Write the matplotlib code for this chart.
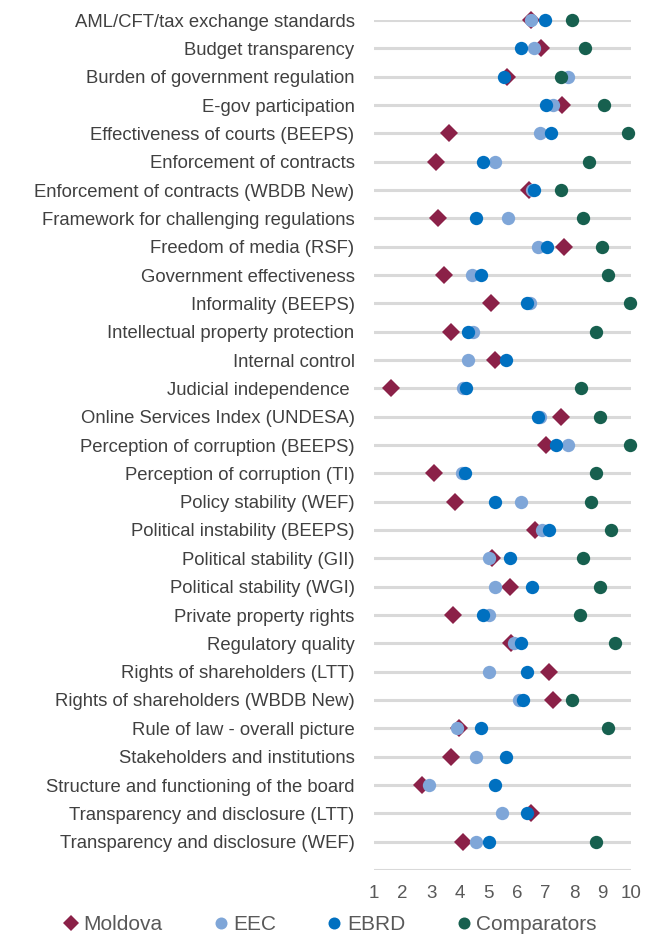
import numpy as np
import matplotlib
matplotlib.use("Agg")
import matplotlib.pyplot as plt

nan = np.nan

categories = [
    "AML/CFT/tax exchange standards",
    "Budget transparency",
    "Burden of government regulation",
    "E-gov participation",
    "Effectiveness of courts (BEEPS)",
    "Enforcement of contracts",
    "Enforcement of contracts (WBDB New)",
    "Framework for challenging regulations",
    "Freedom of media (RSF)",
    "Government effectiveness",
    "Informality (BEEPS)",
    "Intellectual property protection",
    "Internal control",
    "Judicial independence ",
    "Online Services Index (UNDESA)",
    "Perception of corruption (BEEPS)",
    "Perception of corruption (TI)",
    "Policy stability (WEF)",
    "Political instability (BEEPS)",
    "Political stability (GII)",
    "Political stability (WGI)",
    "Private property rights",
    "Regulatory quality",
    "Rights of shareholders (LTT)",
    "Rights of shareholders (WBDB New)",
    "Rule of law - overall picture",
    "Stakeholders and institutions",
    "Structure and functioning of the board",
    "Transparency and disclosure (LTT)",
    "Transparency and disclosure (WEF)",
]

moldova = [6.51, 6.86, 5.67, 7.60, 3.61, 3.17, 6.43, 3.24, 7.64, 3.46,
           5.11, 3.68, 5.24, 1.59, 7.56, 7.04, 3.10, 3.83, 6.64, 5.14,
           5.78, 3.76, 5.79, 7.12, 7.27, 3.98, 3.68, 2.68, 6.51, 4.12]
eec = [6.50, 6.59, 7.79, 7.27, 6.82, 5.24, 6.55, 5.70, 6.75, 4.44,
       6.45, 4.45, 4.28, 4.10, 6.82, 7.79, 4.07, 6.14, 6.87, 5.03,
       5.24, 5.03, 5.90, 5.03, 6.07, 3.91, 4.58, 2.93, 5.49, 4.58]
ebrd = [6.98, 6.14, 5.55, 7.04, 7.19, 4.81, 6.59, 4.58, 7.05, 4.73,
        6.37, 4.28, 5.62, 4.21, 6.73, 7.36, 4.19, 5.24, 7.12, 5.77,
        6.52, 4.81, 6.15, 6.37, 6.22, 4.73, 5.62, 5.24, 6.37, 5.03]
comparators = [7.93, 8.39, 7.55, 9.05, 9.88, 8.53, 7.56, 8.31, 8.98, 9.21,
               9.95, 8.76, nan, 8.24, 8.91, 9.95, 8.76, 8.61, 9.29, 8.31,
               8.91, 8.23, 9.44, nan, 7.93, 9.21, nan, nan, nan, 8.76]

plt.rcParams['font.family'] = ['Liberation Sans', 'DejaVu Sans']

n = len(categories)
ypos = np.arange(n, 0, -1)  # first category at top

fig = plt.figure(figsize=(6.48, 9.38), dpi=100)
ax = fig.add_axes([374 / 648, 1 - 870 / 938, 257 / 648, 850 / 938])

series = [
    ("Moldova", moldova, "D", "#8B2148", 9.4),
    ("EEC", eec, "o", "#7FA6D8", 9.6),
    ("EBRD", ebrd, "o", "#0070C0", 9.6),
    ("Comparators", comparators, "o", "#17604F", 9.6),
]
for i, (name, vals, mk, col, ms) in enumerate(series):
    ax.plot(vals, ypos, linestyle="none", marker=mk, color=col,
            markersize=ms, markeredgewidth=0, label=name,
            clip_on=False, zorder=3 + i)

ax.set_xlim(1, 10)
ax.set_ylim(0, n)
ax.set_xticks(range(1, 11))
ax.set_yticks(range(0, n + 1))
ax.set_yticklabels([""] + categories[::-1])
ax.grid(axis="y", color="#D9D9D9", linewidth=2.2, zorder=0)
ax.set_axisbelow(True)
for s in ax.spines.values():
    s.set_visible(False)
ax.tick_params(axis="y", length=0, pad=14, labelsize=13.3, labelcolor="#404040")
ax.tick_params(axis="x", length=0, pad=11, labelsize=13.5, labelcolor="#595959")

handles, labels = ax.get_legend_handles_labels()
leg = fig.legend(handles, labels, loc="center", bbox_to_anchor=(0.51, 0.014),
                 ncol=4, frameon=False, markerscale=0.9, handlelength=0.6,
                 handletextpad=0.3, columnspacing=2.5, fontsize=15)
for t in leg.get_texts():
    t.set_color("#595959")

fig.savefig("out.png", dpi=100)
